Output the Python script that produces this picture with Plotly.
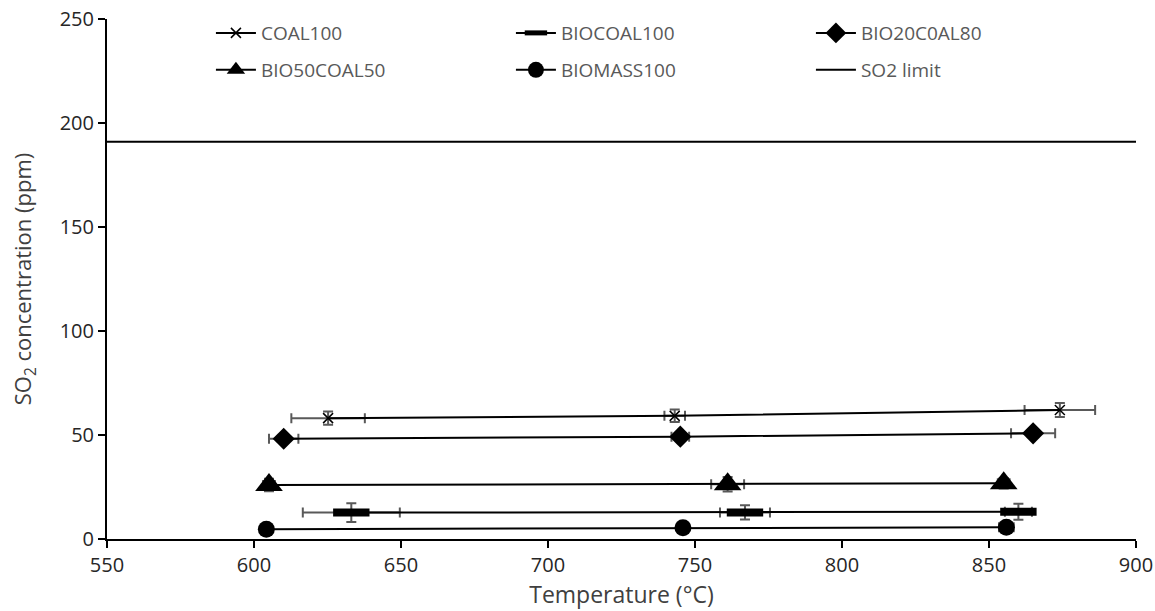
import plotly.graph_objects as go

# ---- data ----
coal100_x = [625.2, 743.1, 874.1]
coal100_y = [58.1, 59.2, 62.0]
coal100_xerr = [12.5, 3.5, 12.0]
coal100_yerr = [3.2, 3.0, 3.4]

biocoal100_x = [633.1, 767.0, 860.0]
biocoal100_y = [12.7, 12.8, 13.1]
biocoal100_xerr = [16.5, 8.5, 4.6]
biocoal100_yerr = [4.5, 3.4, 3.8]

bio20_x = [610.1, 745.0, 865.0]
bio20_y = [48.2, 49.2, 50.8]
bio20_xerr = [5.0, 3.0, 7.5]
bio20_yerr = [2.0, 2.0, 1.5]

bio50_x = [605.1, 761.1, 855.0]
bio50_y = [26.0, 26.3, 26.8]
bio50_xerr = [2.0, 5.6, 2.0]
bio50_yerr = [3.0, 3.5, 2.5]

biomass_x = [604.2, 745.9, 855.9]
biomass_y = [4.7, 5.4, 5.6]
biomass_xerr = [0.5, 0.5, 2.5]
biomass_yerr = [0.5, 0.5, 1.5]

limit_x = [550, 900]
limit_y = [191, 191]

x_ticks = [550, 600, 650, 700, 750, 800, 850, 900]
y_ticks = [0, 50, 100, 150, 200, 250]

ERR = "#595959"
FONT = "Open Sans"

def err(arr):
    return dict(type="data", array=arr, color=ERR, thickness=2, width=5, visible=True)

fig = go.Figure()

series = [
    ("COAL100", coal100_x, coal100_y, coal100_xerr, coal100_yerr,
     dict(symbol="x-thin", size=10, color="black", line=dict(color="black", width=1.5)), "legend"),
    ("BIOCOAL100", biocoal100_x, biocoal100_y, biocoal100_xerr, biocoal100_yerr,
     dict(symbol="line-ew", size=26, color="black", line=dict(color="black", width=8)), "legend"),
    ("BIO20C0AL80", bio20_x, bio20_y, bio20_xerr, bio20_yerr,
     dict(symbol="diamond", size=17, color="black", line=dict(width=0)), "legend"),
    ("BIO50COAL50", bio50_x, bio50_y, bio50_xerr, bio50_yerr,
     dict(symbol="triangle-up", size=24, color="black", line=dict(width=0)), "legend2"),
    ("BIOMASS100", biomass_x, biomass_y, biomass_xerr, biomass_yerr,
     dict(symbol="circle", size=17, color="black", line=dict(width=0)), "legend2"),
]

for name, xs, ys, xe, ye, mk, lg in series:
    fig.add_trace(go.Scatter(
        x=xs, y=ys, name=name, mode="lines+markers",
        line=dict(color="black", width=2),
        marker=mk, legend=lg,
        error_x=err(xe), error_y=err(ye),
    ))

fig.add_trace(go.Scatter(
    x=limit_x, y=limit_y, name="SO2 limit", mode="lines",
    line=dict(color="black", width=2), legend="legend2",
))

leg_common = dict(
    orientation="h", xanchor="left", yanchor="middle",
    font=dict(family=FONT, size=19, color="#595959"),
    entrywidth=245, itemwidth=40, bgcolor="rgba(0,0,0,0)",
)

fig.update_layout(
    width=1155, height=611,
    margin=dict(l=107, r=19, t=19, b=72),
    paper_bgcolor="white", plot_bgcolor="white",
    font=dict(family=FONT, size=20, color="#404040"),
    showlegend=True,
    legend=dict(x=0.101, y=0.973, **leg_common),
    legend2=dict(x=0.101, y=0.902, **leg_common),
    xaxis=dict(
        range=[550, 900], tickvals=x_ticks, ticks="outside", ticklen=7, tickwidth=2,
        tickcolor="black", showline=True, linecolor="black", linewidth=2,
        showgrid=False, zeroline=False, automargin=False,
        title=dict(text="Temperature (°C)", standoff=8, font=dict(size=23)),
        tickfont=dict(size=20, color="#262626"),
    ),
    yaxis=dict(
        range=[0, 250], tickvals=y_ticks, ticks="outside", ticklen=7, tickwidth=2,
        tickcolor="black", showline=True, linecolor="black", linewidth=2,
        showgrid=False, zeroline=False, automargin=False,
        title=dict(text="SO<sub>2</sub> concentration (ppm)", standoff=22, font=dict(size=22)),
        tickfont=dict(size=20, color="#262626"),
    ),
)

fig.write_html("out.html")
